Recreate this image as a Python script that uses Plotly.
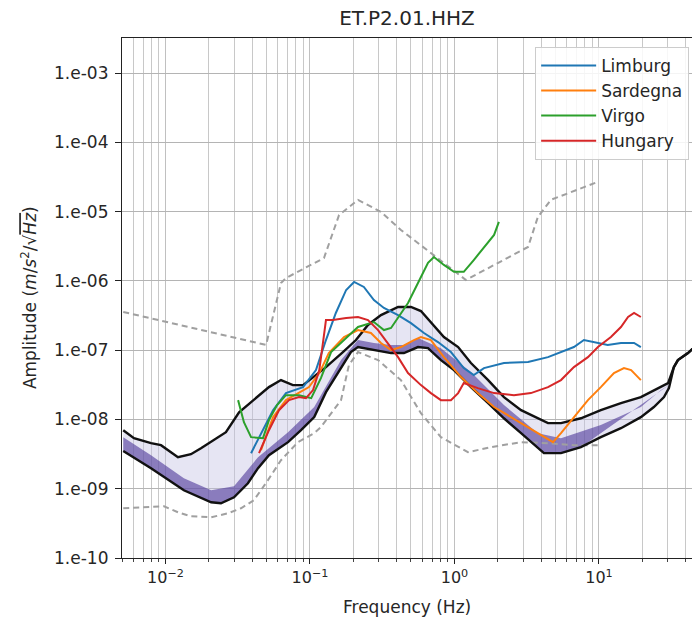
import math
import plotly.graph_objects as go

# ---------------- data ----------------
# Upper reference model (gray dashed)
nhnm_f = [0.0051, 0.0497, 0.0630, 0.0682, 0.125, 0.159, 0.215, 0.310, 0.426, 1.20, 3.23, 3.78, 4.65, 9.84]
nhnm_a = [3.56e-7, 1.19e-7, 9.34e-7, 1.10e-6, 2.14e-6, 8.95e-6, 1.48e-5, 9.9e-6, 5.44e-6, 1.03e-6, 3.09e-6, 8.38e-6, 1.48e-5, 2.69e-5]

# Lower reference model (gray dashed)
nlnm_f = [0.0051, 0.0071, 0.00977, 0.0122, 0.0150, 0.0207, 0.0271, 0.0333, 0.0409, 0.0512, 0.0630, 0.0826,
          0.107, 0.119, 0.164, 0.186, 0.215, 0.296, 0.426, 0.586, 0.806, 1.24, 1.79, 2.89, 4.44, 6.71, 9.84]
nlnm_a = [5.22e-10, 5.40e-10, 5.58e-10, 4.57e-10, 4.00e-10, 3.87e-10, 4.42e-10, 5.22e-10, 6.82e-10, 1.33e-9,
          2.58e-9, 4.70e-9, 6.34e-9, 7.74e-9, 1.90e-8, 6.09e-8, 9.39e-8, 7.19e-8, 3.70e-8, 1.23e-8, 5.55e-9,
          3.37e-9, 3.98e-9, 4.70e-9, 4.54e-9, 4.25e-9, 4.25e-9]

# Station envelope: upper percentile (black)
high_f = [0.0051, 0.00605, 0.00794, 0.00931, 0.0122, 0.0150, 0.0176, 0.0217, 0.0262, 0.0323, 0.0404, 0.0520,
          0.0630, 0.0762, 0.0895, 0.105, 0.129, 0.169, 0.208, 0.252, 0.310, 0.407, 0.500, 0.586, 0.687, 0.845,
          1.06, 1.30, 1.71, 2.20, 2.89, 3.78, 4.44, 5.46, 7.50, 10.3, 14.2, 19.5, 24.0, 30.1, 33.0, 35.2, 41.3,
          44.8, 50.0]
high_a = [7.00e-9, 5.37e-9, 4.54e-9, 4.25e-9, 2.85e-9, 3.15e-9, 3.85e-9, 5.02e-9, 6.55e-9, 1.27e-8, 1.90e-8,
          2.93e-8, 3.70e-8, 3.13e-8, 3.13e-8, 4.09e-8, 5.70e-8, 9.39e-8, 1.40e-7, 2.31e-7, 3.21e-7, 4.20e-7,
          4.20e-7, 3.67e-7, 2.55e-7, 1.55e-7, 1.11e-7, 6.52e-8, 3.70e-8, 2.10e-8, 1.36e-8, 1.04e-8, 8.84e-9,
          8.84e-9, 1.04e-8, 1.36e-8, 1.72e-8, 2.10e-8, 2.65e-8, 3.35e-8, 5.70e-8, 7.19e-8, 9.08e-8, 1.07e-7,
          1.30e-7]

# Station envelope: lower percentile (black)
low_f = [0.0051, 0.00794, 0.0134, 0.0207, 0.0242, 0.0298, 0.0372, 0.0437, 0.0520, 0.0705, 0.0867, 0.107,
         0.129, 0.164, 0.192, 0.215, 0.277, 0.364, 0.447, 0.559, 0.656, 0.806, 0.992, 1.30, 1.71, 2.20, 2.89,
         3.78, 4.16, 5.46, 7.50, 10.3, 14.2, 19.5, 24.0, 28.2, 30.5, 33.0, 35.2, 41.3, 44.8, 50.0]
low_a = [3.50e-9, 1.98e-9, 9.51e-10, 6.38e-10, 6.17e-10, 7.53e-10, 1.20e-9, 1.98e-9, 3.05e-9, 4.70e-9, 7.00e-9,
         1.08e-8, 2.48e-8, 5.51e-8, 9.39e-8, 1.11e-7, 1.00e-7, 9.08e-8, 9.08e-8, 1.11e-7, 1.07e-7, 7.19e-8,
         5.16e-8, 2.93e-8, 1.72e-8, 1.04e-8, 6.34e-9, 3.85e-9, 3.26e-9, 3.26e-9, 3.98e-9, 5.55e-9, 7.48e-9,
         1.08e-8, 1.51e-8, 2.10e-8, 2.83e-8, 5.70e-8, 7.19e-8, 9.08e-8, 1.07e-7, 1.30e-7]

# Upper edge of the densest part of the PSD distribution
dense_f = [0.0051, 0.00794, 0.0134, 0.0207, 0.0298, 0.0437, 0.0705, 0.107, 0.164, 0.215, 0.277, 0.364, 0.447,
           0.559, 0.806, 1.30, 2.20, 3.78, 5.46, 10.3, 19.5, 26.9, 30.5]
dense_a = [5.55e-9, 3.05e-9, 1.42e-9, 9.51e-10, 1.09e-9, 2.85e-9, 6.55e-9, 1.51e-8, 7.19e-8, 1.40e-7, 1.27e-7,
           1.19e-7, 1.19e-7, 1.50e-7, 1.07e-7, 4.83e-8, 1.61e-8, 6.34e-9, 5.37e-9, 8.28e-9, 1.51e-8, 2.65e-8,
           3.13e-8]

# Site curves
limburg_f = [0.0391, 0.0444, 0.0555, 0.0682, 0.0895, 0.110, 0.129, 0.151, 0.178, 0.202, 0.236, 0.277, 0.325,
             0.407, 0.500, 0.615, 0.769, 0.945, 1.16, 1.36, 1.60, 2.20, 3.23, 4.44, 5.46, 6.71, 7.87, 9.23,
             11.5, 14.2, 17.5, 19.5]
limburg_a = [3.26e-9, 5.55e-9, 1.36e-8, 2.40e-8, 2.93e-8, 5.16e-8, 1.40e-7, 3.44e-7, 7.40e-7, 9.66e-7, 8.17e-7,
             5.30e-7, 4.06e-7, 3.21e-7, 2.46e-7, 1.77e-7, 1.31e-7, 9.39e-8, 5.51e-8, 4.37e-8, 5.51e-8, 6.52e-8,
             6.73e-8, 7.94e-8, 9.39e-8, 1.11e-7, 1.40e-7, 1.31e-7, 1.19e-7, 1.27e-7, 1.27e-7, 1.11e-7]

sardegna_f = [0.0458, 0.0555, 0.0682, 0.0840, 0.0984, 0.116, 0.135, 0.172, 0.215, 0.264, 0.310, 0.364, 0.426,
              0.524, 0.586, 0.687, 0.845, 1.11, 1.45, 1.88, 2.46, 3.23, 4.16, 4.81, 5.46, 6.71, 8.39, 10.3,
              12.7, 14.9, 16.7, 19.5]
sardegna_a = [3.60e-9, 1.08e-8, 1.90e-8, 2.40e-8, 2.93e-8, 4.67e-8, 9.08e-8, 1.55e-7, 1.95e-7, 1.77e-7, 1.27e-7,
              1.00e-7, 1.11e-7, 1.40e-7, 1.55e-7, 1.40e-7, 7.94e-8, 4.09e-8, 2.40e-8, 1.51e-8, 1.08e-8, 7.74e-9,
              5.55e-9, 4.70e-9, 6.34e-9, 1.08e-8, 1.90e-8, 2.93e-8, 4.67e-8, 5.51e-8, 5.16e-8, 3.70e-8]

virgo_f = [0.0318, 0.0349, 0.0391, 0.0473, 0.0520, 0.0592, 0.0682, 0.0840, 0.102, 0.119, 0.140, 0.172, 0.215,
           0.277, 0.325, 0.364, 0.407, 0.477, 0.559, 0.656, 0.721, 0.845, 0.992, 1.16, 1.36, 1.60, 1.88, 2.03]
virgo_a = [1.90e-8, 9.14e-9, 5.55e-9, 5.37e-9, 9.77e-9, 1.61e-8, 2.24e-8, 2.24e-8, 2.03e-8, 3.95e-8, 9.39e-8,
           1.40e-7, 2.16e-7, 2.55e-7, 1.95e-7, 2.09e-7, 2.91e-7, 4.80e-7, 9.34e-7, 1.82e-6, 2.21e-6, 1.70e-6,
           1.35e-6, 1.35e-6, 2.00e-6, 3.09e-6, 4.61e-6, 7.10e-6]

hungary_f = [0.0444, 0.0520, 0.0610, 0.0716, 0.0840, 0.0938, 0.105, 0.116, 0.125, 0.129, 0.144, 0.178, 0.215,
             0.252, 0.296, 0.347, 0.407, 0.477, 0.586, 0.687, 0.806, 0.945, 1.06, 1.16, 1.45, 1.88, 2.58, 3.38,
             4.44, 5.46, 6.71, 8.39, 9.84, 12.1, 14.2, 15.9, 17.5, 19.5]
hungary_a = [3.26e-9, 7.00e-9, 1.36e-8, 1.90e-8, 2.10e-8, 2.03e-8, 2.65e-8, 5.16e-8, 1.65e-7, 2.72e-7, 2.72e-7,
             2.91e-7, 3.01e-7, 2.72e-7, 1.95e-7, 1.27e-7, 7.94e-8, 4.67e-8, 3.13e-8, 2.40e-8, 1.90e-8, 1.90e-8,
             2.40e-8, 3.35e-8, 2.83e-8, 2.40e-8, 2.24e-8, 2.40e-8, 2.93e-8, 3.70e-8, 5.70e-8, 7.94e-8, 1.11e-7,
             1.55e-7, 2.16e-7, 3.01e-7, 3.44e-7, 3.01e-7]

y_tick_vals = [1e-10, 1e-9, 1e-8, 1e-7, 1e-6, 1e-5, 1e-4, 1e-3]
y_tick_text = ["1.e-10", "1.e-09", "1.e-08", "1.e-07", "1.e-06", "1.e-05", "1.e-04", "1.e-03"]
x_tick_vals = [0.01, 0.1, 1, 10]
x_tick_text = ["10<sup>\u22122</sup>", "10<sup>\u22121</sup>", "10<sup>0</sup>", "10<sup>1</sup>"]

# ---------------- figure ----------------
FONT = "DejaVu Sans"
TXT = "#262626"
fig = go.Figure()

# PSD distribution shading
fig.add_trace(go.Scatter(x=high_f + low_f[::-1], y=high_a + low_a[::-1], fill="toself",
                         fillcolor="rgba(196,192,226,0.42)", line=dict(width=0), mode="lines",
                         hoverinfo="skip", showlegend=False))
fig.add_trace(go.Scatter(x=dense_f + low_f[::-1][11:], y=dense_a + low_a[::-1][11:], fill="toself",
                         fillcolor="rgba(80,60,155,0.62)", line=dict(width=0), mode="lines",
                         hoverinfo="skip", showlegend=False))

for f, a in ((nhnm_f, nhnm_a), (nlnm_f, nlnm_a)):
    fig.add_trace(go.Scatter(x=f, y=a, mode="lines", line=dict(color="#a0a0a0", width=2, dash="6px,4px"),
                             showlegend=False, hoverinfo="skip"))

for f, a in ((high_f, high_a), (low_f, low_a)):
    fig.add_trace(go.Scatter(x=f, y=a, mode="lines", line=dict(color="#111111", width=2.4),
                             showlegend=False, hoverinfo="skip"))

for name, f, a, c in (("Limburg", limburg_f, limburg_a, "#1f77b4"),
                      ("Sardegna", sardegna_f, sardegna_a, "#ff7f0e"),
                      ("Virgo", virgo_f, virgo_a, "#2ca02c"),
                      ("Hungary", hungary_f, hungary_a, "#d62728")):
    fig.add_trace(go.Scatter(x=f, y=a, mode="lines", name=name, line=dict(color=c, width=2)))

minor_vals = [k * 10.0 ** e for e in range(-3, 2) for k in range(2, 10)]

fig.update_layout(
    width=692, height=621,
    margin=dict(l=122, r=0, t=38, b=63),
    paper_bgcolor="white", plot_bgcolor="white",
    font=dict(family=FONT, size=17, color=TXT),
    title=dict(text="ET.P2.01.HHZ", x=0.5, xref="paper", xanchor="center",
               y=1 - 18 / 621, yref="container", yanchor="middle",
               font=dict(family=FONT, size=20, color=TXT)),
    showlegend=True,
    legend=dict(x=0.995, xanchor="right", y=0.983, yanchor="top",
                bgcolor="rgba(255,255,255,0.85)", bordercolor="#cccccc", borderwidth=1,
                font=dict(family=FONT, size=17, color=TXT), tracegroupgap=0, itemwidth=55),
    xaxis=dict(type="log", range=[math.log10(0.005), 1.644],
               tickmode="array", tickvals=x_tick_vals, ticktext=x_tick_text,
               ticks="outside", ticklen=5, tickcolor="#222", tickfont=dict(size=16),
               showgrid=True, gridcolor="#c0c0c0", gridwidth=1,
               minor=dict(tickvals=minor_vals, showgrid=True, gridcolor="#c8c8c8", gridwidth=1,
                          ticks="outside", ticklen=3, tickcolor="#444"),
               showline=True, linecolor="#222", linewidth=1.2, mirror=True, zeroline=False),
    yaxis=dict(type="log", range=[-10, -2.494],
               tickmode="array", tickvals=y_tick_vals, ticktext=y_tick_text,
               ticks="outside", ticklen=6, tickcolor="#222", tickfont=dict(size=17),
               ticklabelstandoff=3,
               showgrid=True, gridcolor="#b4b4b4", gridwidth=1,
               showline=True, linecolor="#222", linewidth=1.2, mirror=False, zeroline=False),
    annotations=[
        dict(text="Frequency (Hz)", x=0.5, xref="paper", y=-0.094, yref="paper",
             xanchor="center", yanchor="middle", showarrow=False, font=dict(size=17, color=TXT)),
        dict(text="Amplitude (<i>m</i>/<i>s</i><sup>2</sup>/\u221a<span style='text-decoration:overline'><i>Hz</i></span>)",
             x=-0.163, xref="paper", y=0.5, yref="paper", textangle=-90,
             xanchor="center", yanchor="middle", showarrow=False, font=dict(size=17, color=TXT)),
    ],
)

fig.write_html("out.html")
